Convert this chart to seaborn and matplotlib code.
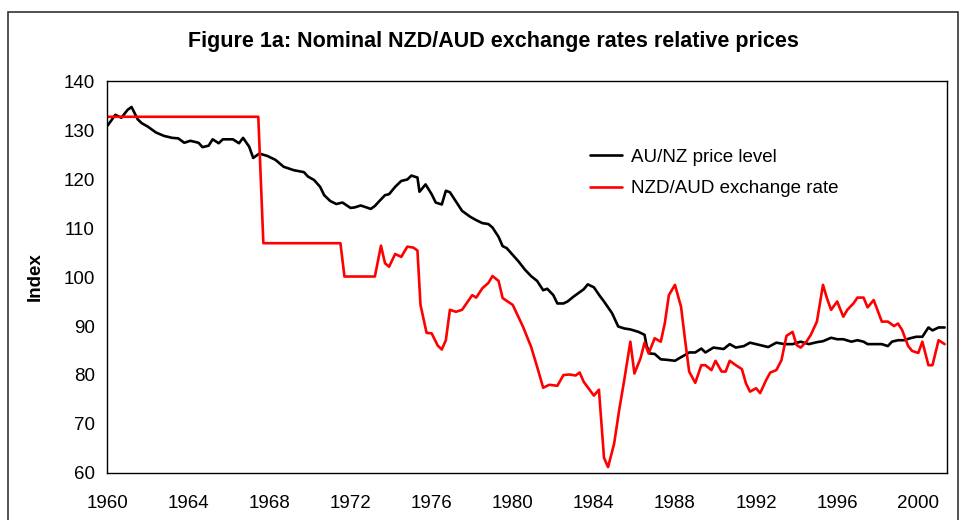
import matplotlib
matplotlib.use("Agg")
import matplotlib.pyplot as plt
from matplotlib.patches import Rectangle
import seaborn as sns
import pandas as pd

# AU/NZ price level
price_years = [1960.0, 1960.4, 1960.7, 1961.0, 1961.2, 1961.5, 1961.7, 1962.0, 1962.4, 1962.8,
               1963.2, 1963.5, 1963.8, 1964.1, 1964.5, 1964.7, 1965.0, 1965.2, 1965.5, 1965.7,
               1966.2, 1966.5, 1966.7, 1967.0, 1967.2, 1967.5, 1967.9, 1968.3, 1968.7, 1969.2,
               1969.7, 1969.9, 1970.2, 1970.5, 1970.7, 1971.0, 1971.3, 1971.6, 1972.0, 1972.2,
               1972.5, 1973.0, 1973.2, 1973.4, 1973.7, 1973.9, 1974.2, 1974.5, 1974.8, 1975.0,
               1975.3, 1975.4, 1975.7, 1976.0, 1976.2, 1976.5, 1976.7, 1976.9, 1977.2, 1977.5,
               1977.9, 1978.2, 1978.5, 1978.8, 1979.0, 1979.3, 1979.5, 1979.7, 1980.0, 1980.3,
               1980.6, 1980.9, 1981.2, 1981.5, 1981.7, 1982.0, 1982.2, 1982.5, 1982.7, 1983.0,
               1983.5, 1983.7, 1984.0, 1984.3, 1984.5, 1984.9, 1985.2, 1985.5, 1985.8, 1986.2,
               1986.5, 1986.6, 1986.75, 1987.0, 1987.3, 1987.6, 1988.0, 1988.2, 1988.5, 1988.7,
               1989.0, 1989.3, 1989.5, 1989.9, 1990.4, 1990.7, 1991.0, 1991.4, 1991.7, 1992.2,
               1992.6, 1993.0, 1993.4, 1993.8, 1994.2, 1994.6, 1995.0, 1995.3, 1995.7, 1996.0,
               1996.3, 1996.7, 1997.0, 1997.3, 1997.5, 1997.9, 1998.2, 1998.5, 1998.7, 1999.0,
               1999.3, 1999.6, 1999.9, 2000.2, 2000.5, 2000.7, 2001.0, 2001.3]
price_level = [130.8, 133.1, 132.5, 134.1, 134.7, 132.2, 131.4, 130.7, 129.5, 128.8,
               128.4, 128.3, 127.4, 127.8, 127.4, 126.5, 126.8, 128.1, 127.3, 128.1,
               128.1, 127.3, 128.4, 126.6, 124.3, 125.2, 124.7, 123.9, 122.5, 121.8,
               121.4, 120.5, 119.8, 118.4, 116.7, 115.5, 114.9, 115.2, 114.1, 114.2,
               114.6, 113.9, 114.5, 115.4, 116.7, 116.9, 118.4, 119.6, 119.9, 120.7,
               120.3, 117.4, 118.9, 116.9, 115.2, 114.8, 117.6, 117.3, 115.4, 113.5,
               112.3, 111.6, 111.0, 110.8, 110.1, 108.2, 106.3, 105.9, 104.5, 103.1,
               101.5, 100.2, 99.2, 97.3, 97.6, 96.3, 94.6, 94.6, 95.0, 96.0,
               97.5, 98.5, 97.9, 96.1, 95.0, 92.6, 89.9, 89.5, 89.3, 88.8,
               88.2, 86.0, 84.4, 84.3, 83.2, 83.1, 82.9, 83.4, 84.1, 84.6,
               84.6, 85.4, 84.6, 85.6, 85.3, 86.3, 85.6, 85.9, 86.6, 86.1,
               85.7, 86.6, 86.3, 86.3, 86.8, 86.3, 86.7, 86.9, 87.6, 87.3,
               87.3, 86.8, 87.1, 86.8, 86.3, 86.3, 86.3, 85.9, 86.8, 87.1,
               87.1, 87.5, 87.8, 87.8, 89.7, 89.1, 89.7, 89.7]

# NZD/AUD exchange rate
fx_years = [1960.0, 1967.45, 1967.7, 1971.5, 1971.7, 1973.2, 1973.5, 1973.7, 1973.9, 1974.2,
            1974.5, 1974.8, 1975.1, 1975.3, 1975.45, 1975.75, 1976.0, 1976.3, 1976.5, 1976.7,
            1976.9, 1977.2, 1977.5, 1978.0, 1978.2, 1978.5, 1978.8, 1979.0, 1979.3, 1979.5,
            1980.0, 1980.5, 1980.9, 1981.2, 1981.5, 1981.8, 1982.2, 1982.5, 1982.8, 1983.1,
            1983.3, 1983.5, 1984.0, 1984.25, 1984.5, 1984.7, 1985.0, 1985.25, 1985.5, 1985.8,
            1986.0, 1986.3, 1986.5, 1986.7, 1987.0, 1987.3, 1987.5, 1987.7, 1988.0, 1988.3,
            1988.5, 1988.7, 1989.0, 1989.3, 1989.5, 1989.8, 1990.0, 1990.3, 1990.5, 1990.7,
            1991.0, 1991.3, 1991.5, 1991.7, 1992.0, 1992.2, 1992.5, 1992.7, 1993.0, 1993.25,
            1993.5, 1993.8, 1994.0, 1994.2, 1994.5, 1994.7, 1995.0, 1995.3, 1995.5, 1995.7,
            1996.0, 1996.3, 1996.5, 1996.8, 1997.0, 1997.3, 1997.5, 1997.8, 1998.2, 1998.5,
            1998.8, 1999.0, 1999.2, 1999.5, 1999.7, 2000.0, 2000.2, 2000.5, 2000.7, 2001.0,
            2001.3]
fx_rate = [132.7, 132.7, 106.9, 106.9, 100.1, 100.1, 106.4, 102.8, 102.1, 104.7,
           104.1, 106.2, 106.0, 105.4, 94.3, 88.6, 88.5, 86.0, 85.2, 87.1,
           93.3, 92.9, 93.3, 96.3, 95.8, 97.7, 98.8, 100.2, 99.2, 95.7,
           94.3, 89.9, 85.8, 81.7, 77.4, 78.0, 77.8, 80.0, 80.1, 79.9,
           80.5, 78.6, 75.8, 77.0, 63.1, 61.2, 66.0, 72.9, 79.0, 86.8,
           80.3, 83.4, 86.6, 84.4, 87.5, 86.8, 90.6, 96.3, 98.4, 93.9,
           87.1, 80.7, 78.4, 82.0, 82.0, 81.0, 82.9, 80.7, 80.7, 82.9,
           82.0, 81.2, 78.3, 76.6, 77.3, 76.3, 79.0, 80.5, 81.0, 83.0,
           88.0, 88.8, 86.1, 85.6, 86.9, 88.2, 90.9, 98.4, 95.6, 93.3,
           95.0, 91.9, 93.3, 94.6, 95.8, 95.8, 93.8, 95.3, 90.9, 90.9,
           90.0, 90.5, 89.2, 85.9, 84.9, 84.5, 86.8, 82.0, 82.0, 87.1,
           86.3]

series_names = ["AU/NZ price level", "NZD/AUD exchange rate"]
series_colors = ["#000000", "#ff0000"]

df = pd.concat([
    pd.DataFrame({"year": price_years, "value": price_level, "series": series_names[0]}),
    pd.DataFrame({"year": fx_years, "value": fx_rate, "series": series_names[1]}),
])

sns.set_theme(style="white")
plt.rcParams["font.family"] = ["Liberation Sans", "DejaVu Sans"]
plt.rcParams["text.color"] = "black"
plt.rcParams["axes.labelcolor"] = "black"

fig = plt.figure(figsize=(9.66, 5.2), dpi=100)
ax = fig.add_axes([0.111, 0.0904, 0.869, 0.7538])

sns.lineplot(data=df, x="year", y="value", hue="series",
             palette=dict(zip(series_names, series_colors)),
             estimator=None, sort=False, linewidth=1.9, ax=ax)

ax.set_xlim(1960, 2001.4)
ax.set_ylim(60, 140)
ax.set_yticks(range(60, 141, 10))
years = list(range(1960, 2002))
ax.set_xticks(years)
ax.set_xticklabels([str(y) if y % 4 == 0 else "" for y in years])
ax.tick_params(axis="both", direction="out", length=5, width=1, color="black",
               labelsize=13.5, labelcolor="black")
ax.tick_params(axis="x", pad=11)
ax.tick_params(axis="y", pad=4)
for side in ax.spines.values():
    side.set_color("black")
    side.set_linewidth(1)

ax.set_xlabel("")
ax.set_ylabel("Index", fontsize=13.5, fontweight="bold", labelpad=14)

ax.legend(title=None, frameon=False, fontsize=13.5, loc="upper left",
          bbox_to_anchor=(0.555, 0.87), handlelength=1.7, handletextpad=0.5,
          labelspacing=0.75)

fig.suptitle("Figure 1a: Nominal NZD/AUD exchange rates relative prices",
             fontsize=15.5, fontweight="bold", color="black", x=0.511, y=0.94)

# outer chart border
fig.patches.append(Rectangle((8 / 966, -0.05), 950 / 966, 1.05 - 12 / 520,
                             transform=fig.transFigure, fill=False,
                             edgecolor="#333333", linewidth=1.2))

fig.savefig("out.png", dpi=100)
